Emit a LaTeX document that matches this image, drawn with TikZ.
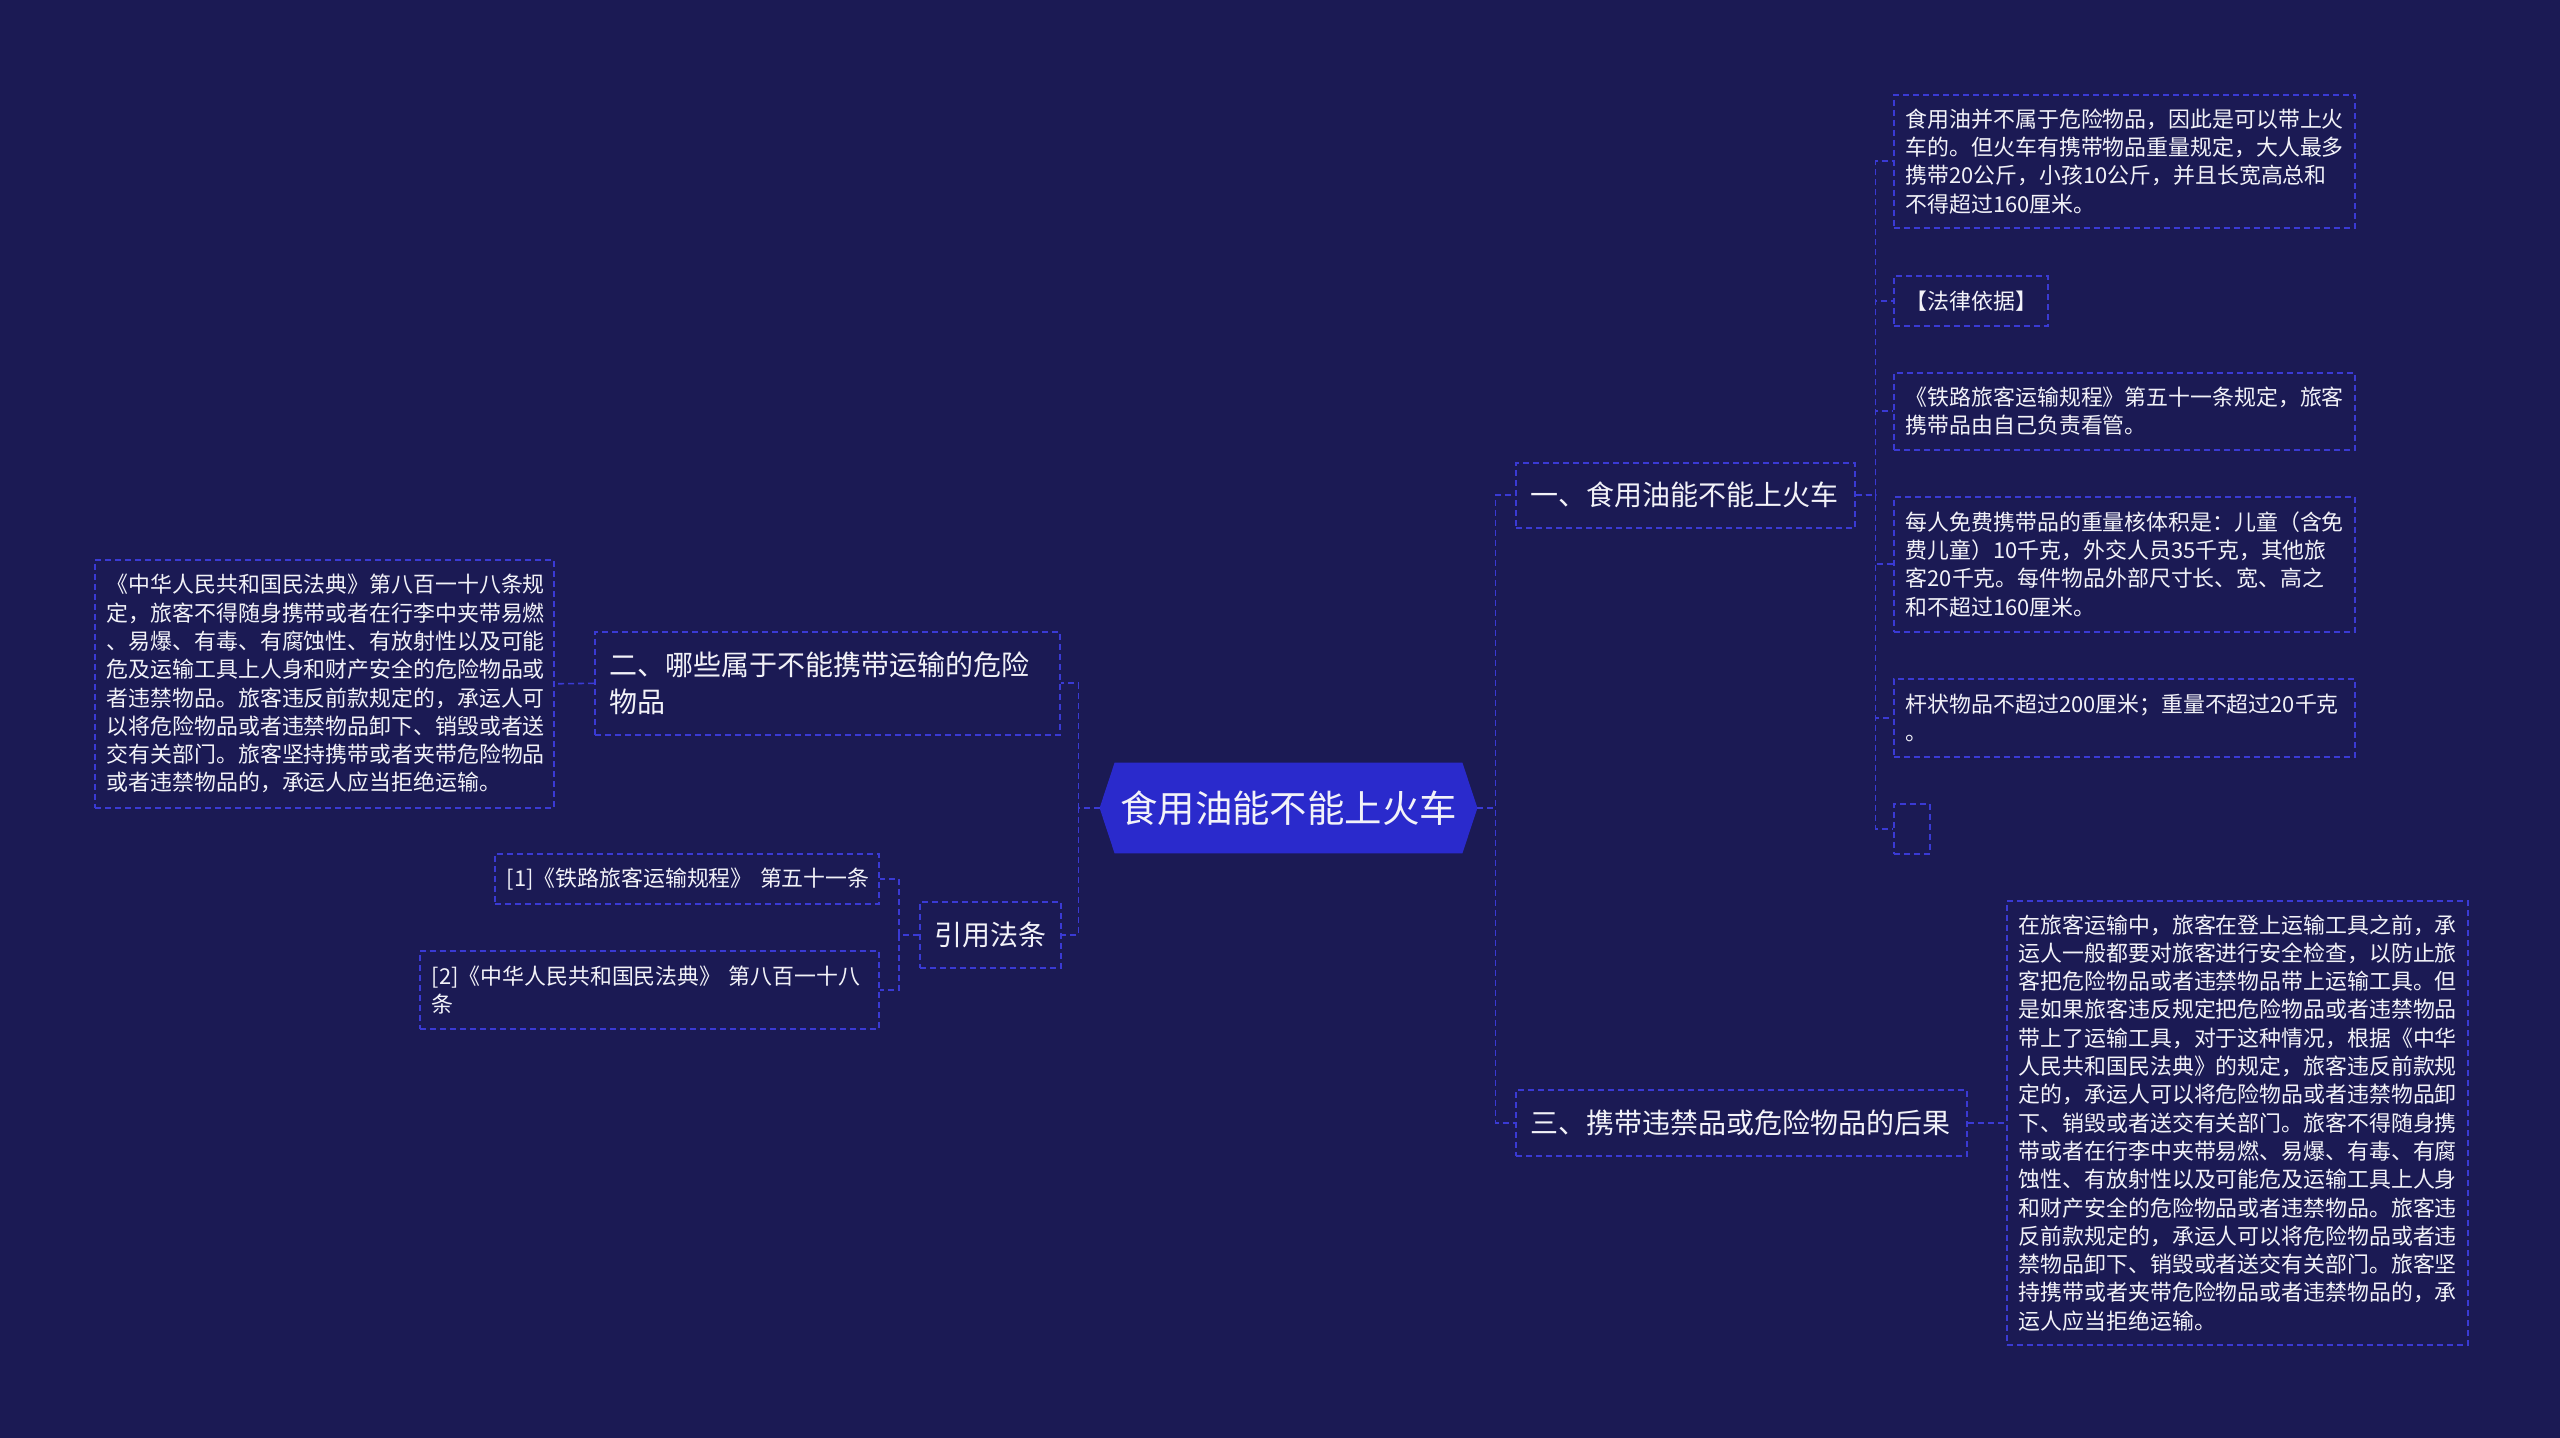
\documentclass[tikz,border=0pt]{standalone}
\usepackage{fontspec}
\setmainfont{Noto Sans CJK SC}
\pgfdeclarelayer{back}
\pgfdeclarelayer{mid}
\pgfsetlayers{back,mid,main}
\definecolor{bgc}{RGB}{27,26,84}
\definecolor{lnc}{RGB}{58,58,212}
\definecolor{rootc}{RGB}{42,42,204}
\definecolor{txtc}{RGB}{242,242,248}
\begin{document}
\begin{tikzpicture}[x=0.5pt,y=-0.5pt,
  line/.style={draw=lnc, line width=0.8pt, dash pattern=on 3pt off 2pt},
  box/.style={line, anchor=north west, align=left, inner ysep=0pt, text=txtc},
  leaf/.style={box, inner xsep=6pt, font=\fontsize{10.95pt}{14.15pt}\selectfont},
  lvl/.style={box, inner xsep=7.25pt, font=\fontsize{14pt}{18.3pt}\selectfont}]
\begin{pgfonlayer}{back}
\fill[bgc] (0,0) rectangle (2560,1438);
\end{pgfonlayer}
\useasboundingbox (0,0) rectangle (2560,1438);

% root
\node[text=txtc, font=\fontsize{18.7pt}{22pt}\selectfont, minimum width=188.5pt, minimum height=45pt, inner sep=0pt] (root) at (1288.5,808) {食用油能不能上火车};
\begin{pgfonlayer}{mid}
\fill[rootc] ([xshift=7.5pt]root.north west) -- ([xshift=-7.5pt]root.north east) -- (root.east) -- ([xshift=-7.5pt]root.south east) -- ([xshift=7.5pt]root.south west) -- (root.west) -- cycle;
\end{pgfonlayer}

% level 1
\node[lvl, text width=155pt, minimum height=32.5pt] (b1) at (1515,462) {一、食用油能不能上火车};
\node[lvl, text width=211pt, minimum height=33pt] (b3) at (1515,1089) {三、携带违禁品或危险物品的后果};
\node[lvl, text width=218pt, minimum height=51.5pt] (b2) at (594,631) {二、哪些属于不能携带运输的危险\\物品};
\node[lvl, text width=56pt, minimum height=33pt] (b4) at (919,901) {引用法条};

% right leaves
\node[leaf, text width=218.5pt, minimum height=66.5pt] (c1) at (1893,94) {食用油并不属于危险物品，因此是可以带上火\\车的。但火车有携带物品重量规定，大人最多\\携带20公斤，小孩10公斤，并且长宽高总和\\不得超过160厘米。};
\node[leaf, text width=65pt, minimum height=25pt] (c2) at (1893,275) {【法律依据】};
\node[leaf, text width=218.5pt, minimum height=38.5pt] (c3) at (1893,372) {《铁路旅客运输规程》第五十一条规定，旅客\\携带品由自己负责看管。};
\node[leaf, text width=218.5pt, minimum height=67.5pt] (c4) at (1893,496) {每人免费携带品的重量核体积是：儿童（含免\\费儿童）10千克，外交人员35千克，其他旅\\客20千克。每件物品外部尺寸长、宽、高之\\和不超过160厘米。};
\node[leaf, text width=218.5pt, minimum height=39pt] (c5) at (1893,678) {杆状物品不超过200厘米；重量不超过20千克\\。};
\node[leaf, text width=6pt, minimum height=25pt] (c6) at (1893,803) {};

\node[leaf, text width=218.5pt, minimum height=222pt] (d1) at (2006,900) {在旅客运输中，旅客在登上运输工具之前，承\\运人一般都要对旅客进行安全检查，以防止旅\\客把危险物品或者违禁物品带上运输工具。但\\是如果旅客违反规定把危险物品或者违禁物品\\带上了运输工具，对于这种情况，根据《中华\\人民共和国民法典》的规定，旅客违反前款规\\定的，承运人可以将危险物品或者违禁物品卸\\下、销毁或者送交有关部门。旅客不得随身携\\带或者在行李中夹带易燃、易爆、有毒、有腐\\蚀性、有放射性以及可能危及运输工具上人身\\和财产安全的危险物品或者违禁物品。旅客违\\反前款规定的，承运人可以将危险物品或者违\\禁物品卸下、销毁或者送交有关部门。旅客坚\\持携带或者夹带危险物品或者违禁物品的，承\\运人应当拒绝运输。};

% left leaves
\node[leaf, text width=217.5pt, minimum height=124pt] (e1) at (94,559) {《中华人民共和国民法典》第八百一十八条规\\定，旅客不得随身携带或者在行李中夹带易燃\\、易爆、有毒、有腐蚀性、有放射性以及可能\\危及运输工具上人身和财产安全的危险物品或\\者违禁物品。旅客违反前款规定的，承运人可\\以将危险物品或者违禁物品卸下、销毁或者送\\交有关部门。旅客坚持携带或者夹带危险物品\\或者违禁物品的，承运人应当拒绝运输。};
\node[leaf, text width=180pt, minimum height=25pt] (r1) at (494,853) {[1]《铁路旅客运输规程》~第五十一条};
\node[leaf, text width=217.5pt, minimum height=39pt] (r2) at (419,950) {[2]《中华人民共和国民法典》~第八百一十八\\条};

% connectors
\draw[line] (root.east) -- ++(18,0) |- (b1.west);
\draw[line] (root.east) -- ++(18,0) |- (b3.west);
\draw[line] (root.west) -- ++(-21,0) |- (b2.east);
\draw[line] (root.west) -- ++(-21,0) |- (b4.east);
\foreach \c in {c1,c2,c3,c4,c5,c6}{
  \draw[line] (b1.east) -- ++(20,0) |- (\c.west);
}
\draw[line] (b3.east) -- (d1.west);
\draw[line] (b2.west) -- (e1.east);
\draw[line] (b4.west) -- ++(-20,0) |- (r1.east);
\draw[line] (b4.west) -- ++(-20,0) |- (r2.east);
\end{tikzpicture}
\end{document}
